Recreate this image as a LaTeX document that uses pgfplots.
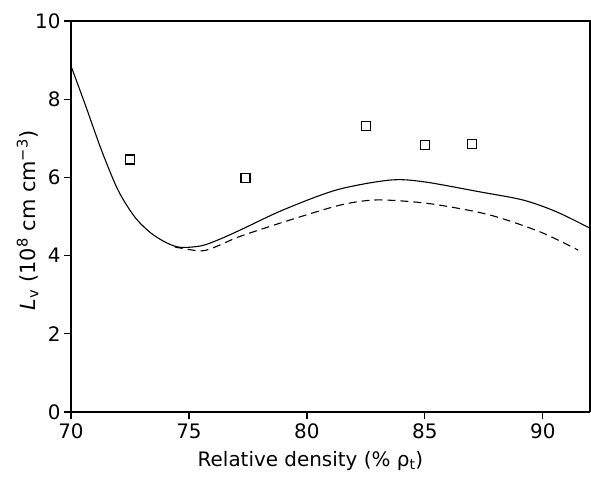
\documentclass[border=0pt]{standalone}
\usepackage{fontspec}
\setmainfont{DejaVu Sans}
\usepackage{pgfplots}
\pgfplotsset{compat=1.18}
\begin{document}
\begin{tikzpicture}
\begin{axis}[
  scale only axis, width=519bp, height=391bp,
  xmin=70, xmax=92, ymin=0, ymax=10,
  xtick={70,75,80,85,90}, ytick={0,2,4,6,8,10},
  axis x line*=bottom, axis y line*=left,
  tick align=outside, major tick length=7bp,
  every tick/.style={black, line width=1.2pt},
  axis line style={line width=1.4pt},
  /pgf/number format/assume math mode=true,
  tick label style={font=\fontsize{20}{23}\selectfont},
  xticklabel style={yshift=-1bp},
  xlabel style={font=\fontsize{20}{23}\selectfont, yshift=-6bp, xshift=-20bp},
  ylabel style={font=\fontsize{21}{24}\selectfont, yshift=-10bp, xshift=-4bp},
  xlabel={Relative density (\% ρ\textsubscript{t})},
  ylabel={\textit{L}\textsubscript{v} (10\textsuperscript{8} cm cm\textsuperscript{−3})},
  clip=true,
]
\addplot[black, line width=1.1pt, smooth, tension=0.5] coordinates {
 (70,8.85) (70.58,7.90) (71.29,6.70) (71.99,5.68) (72.70,4.99) (73.40,4.57) (74.11,4.31)
 (74.67,4.21) (75.52,4.25) (76.23,4.40) (77.16,4.65) (79.0,5.17) (81.26,5.68) (83.5,5.93) (84.93,5.89)
 (87.33,5.63) (89.17,5.42) (90.58,5.12) (92,4.70)};
\addplot[black, line width=1.1pt, dashed, dash pattern=on 8bp off 5bp, smooth, tension=0.5] coordinates {
 (74.4,4.22) (75.52,4.12) (76.23,4.25) (77.16,4.49) (79.28,4.91) (81.4,5.29) (82.8,5.42)
 (84.2,5.39) (85.64,5.29) (87.75,5.04) (89.87,4.61) (91.5,4.14)};
\addplot[only marks, mark=square, mark size=4.5bp, mark options={line width=1.3pt, black}] coordinates {
 (72.5,6.46) (77.4,5.98) (82.5,7.31) (85.0,6.82) (87.0,6.85)};
\end{axis}
\draw[line width=1.4pt] (0,391bp) -- (519bp,391bp) -- (519bp,0);
\path (-71bp,-66bp) rectangle (520bp,412bp);
\end{tikzpicture}
\end{document}
